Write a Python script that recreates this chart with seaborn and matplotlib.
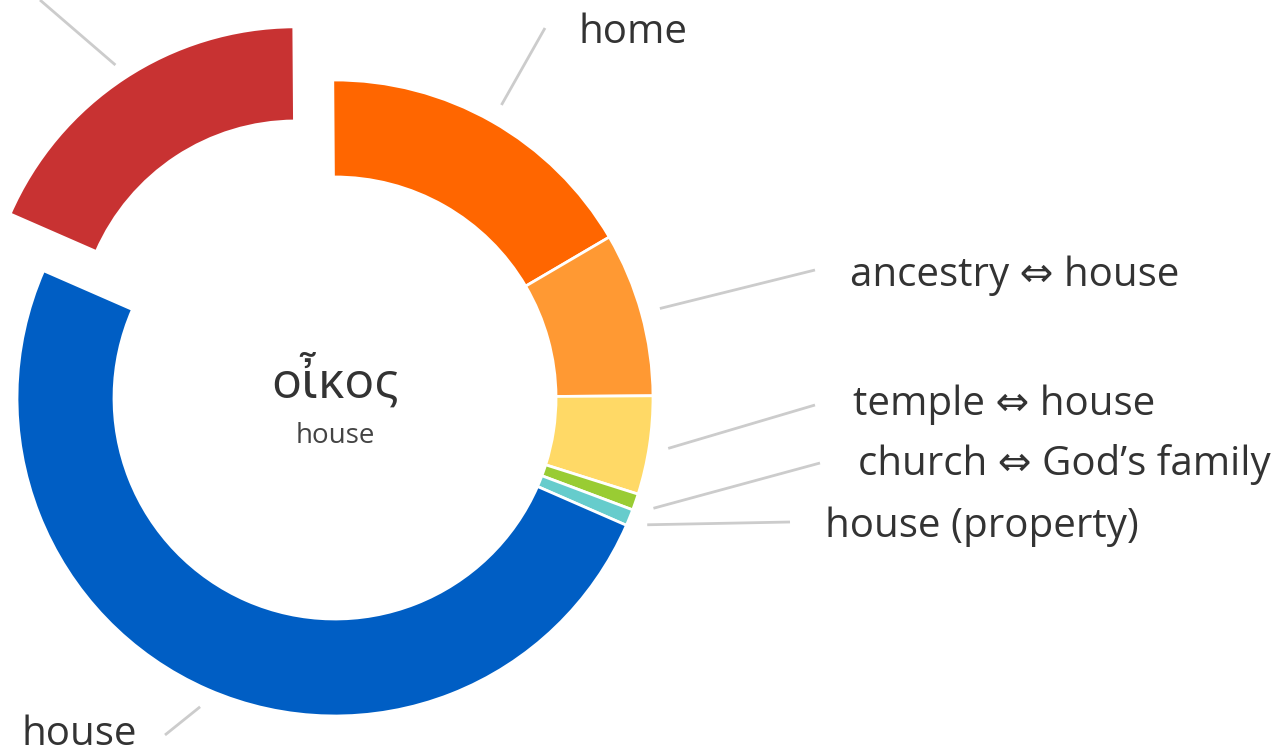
import numpy as np
import matplotlib
matplotlib.use("Agg")
import matplotlib.pyplot as plt
import seaborn as sns

# ---- data ----
senses = ["home", "ancestry \u21d4 house", "temple \u21d4 house",
          "church \u21d4 God\u2019s family", "house (property)", "house", "household"]
counts = [20, 10, 6, 1, 1, 60, 22]
colors = ["#FF6600", "#FF9933", "#FFD966", "#99CC33", "#66CCCC", "#005EC4", "#C83232"]
lemma = "\u03bf\u1f36\u03ba\u03bf\u03c2"
gloss = "house"

sns.set_theme(style="white")
plt.rcParams['font.family'] = ['Open Sans', 'DejaVu Sans']

W, H = 1276, 755
fig = plt.figure(figsize=(W / 100, H / 100), dpi=100)
ax = fig.add_axes([0, 0, 1, 1])

cx, cy = 335, H - 398
R = 318
explode = [0, 0, 0, 0, 0, 0, 0.223 * R]
wedges, _ = ax.pie(counts, colors=colors, explode=explode, startangle=90.4,
                   counterclock=False, radius=R, center=(cx, cy), frame=True,
                   wedgeprops=dict(width=R * 0.305, edgecolor="white", linewidth=2))
# the pulled-out slice is drawn slightly smaller
wedges[-1].set_radius(R * 0.981)
wedges[-1].set_width(R * 0.296)
ax.set_xlim(0, W)
ax.set_ylim(0, H)
ax.set_aspect("equal")
ax.axis("off")

# label layout: (line end x, line end y, text x, text baseline y, ha) in pixel coords from top
layout = [
    (545, 28, 578, 43, "left"),
    (815, 270, 850, 286, "left"),
    (815, 405, 853, 415, "left"),
    (820, 463, 858, 475, "left"),
    (790, 522, 825, 537, "left"),
    (165, 735, 137, 745, "right"),
    (40, 0, None, None, "right"),   # label lies outside the visible canvas
]
for i, (w, (ex, ey, tx, ty, ha)) in enumerate(zip(wedges, layout)):
    ang = np.deg2rad((w.theta1 + w.theta2) / 2)
    wx, wy = w.center
    r_out = w.r
    gap = 16 if i == 6 else 19
    sx = wx + (r_out + gap) * np.cos(ang)
    sy = wy + (r_out + gap) * np.sin(ang)
    ax.plot([sx, ex], [sy, H - ey], color="#cccccc", lw=2, solid_capstyle="butt")
    if tx is not None:
        ax.text(tx, H - ty, senses[i], ha=ha, va="baseline", fontsize=29, color="#333333")

ax.text(cx, H - 398, lemma, ha="center", va="baseline", fontsize=36, color="#333333")
ax.text(cx, H - 443, gloss, ha="center", va="baseline", fontsize=20, color="#444444")

fig.savefig("out.png", dpi=100)
